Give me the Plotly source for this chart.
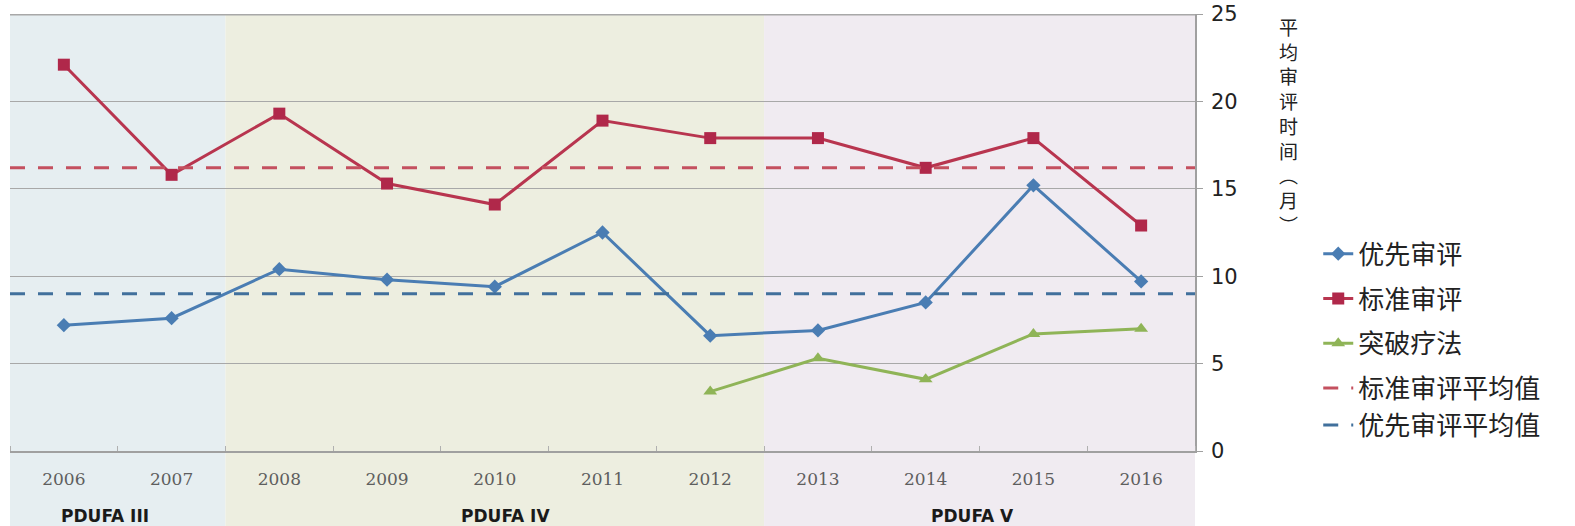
import plotly.graph_objects as go

years = ["2006", "2007", "2008", "2009", "2010", "2011", "2012", "2013", "2014", "2015", "2016"]
priority = [7.2, 7.6, 10.4, 9.8, 9.4, 12.5, 6.6, 6.9, 8.5, 15.2, 9.7]
standard = [22.1, 15.8, 19.3, 15.3, 14.1, 18.9, 17.9, 17.9, 16.2, 17.9, 12.9]
breakthrough_years = ["2012", "2013", "2014", "2015", "2016"]
breakthrough = [3.4, 5.3, 4.1, 6.7, 7.0]
standard_avg = 16.2
priority_avg = 9.0
periods = ["PDUFA III", "PDUFA IV", "PDUFA V"]
period_start = ["2006", "2008", "2013"]
period_end = ["2007", "2012", "2016"]
y_ticks = [0, 5, 10, 15, 20, 25]
axis_title = "平均审评时间︵月︶"

idx = {y: i for i, y in enumerate(years)}
xs = list(range(len(years)))

RED = "#b8354f"
BLUE = "#4a7db3"
GREEN = "#8fb457"

fig = go.Figure()
fig.add_trace(go.Scatter(
    x=xs, y=priority, name="优先审评", mode="lines+markers",
    line=dict(color=BLUE, width=3),
    marker=dict(symbol="diamond", size=11, color=BLUE),
    legendgroup="a"))
fig.add_trace(go.Scatter(
    x=xs, y=standard, name="标准审评", mode="lines+markers",
    line=dict(color=RED, width=3),
    marker=dict(symbol="square", size=12, color="#b0284a"),
    legendgroup="b"))
fig.add_trace(go.Scatter(
    x=[idx[y] for y in breakthrough_years], y=breakthrough, name="突破疗法",
    mode="lines+markers",
    line=dict(color=GREEN, width=3),
    marker=dict(symbol="triangle-up", size=12, color=GREEN),
    legendgroup="c"))
fig.add_trace(go.Scatter(
    x=[-0.5, len(years) - 0.5], y=[standard_avg, standard_avg], name="标准审评平均值",
    mode="lines", line=dict(color="#c4505f", width=3, dash="15px,13px"),
    legendgroup="d"))
fig.add_trace(go.Scatter(
    x=[-0.5, len(years) - 0.5], y=[priority_avg, priority_avg], name="优先审评平均值",
    mode="lines", line=dict(color="#41709c", width=3, dash="15px,13px"),
    legendgroup="d"))

band_colors = ["#e6eef1", "#edeee0", "#f0ebf1"]
shapes = []
for s, e, c in zip(period_start, period_end, band_colors):
    shapes.append(dict(type="rect", xref="x", yref="paper",
                       x0=idx[s] - 0.5, x1=idx[e] + 0.5, y0=-0.172, y1=1,
                       fillcolor=c, line=dict(width=0), layer="below"))
shapes.append(dict(type="line", xref="paper", yref="y", x0=0, x1=1,
                   y0=y_ticks[-1], y1=y_ticks[-1],
                   line=dict(color="#a8a8a8", width=3), layer="above"))

annotations = []
label_pos = [0.38, 4.1, 8.43]
for p, xp in zip(periods, label_pos):
    annotations.append(dict(x=xp, y=-0.148, xref="x", yref="paper", text=p,
                            showarrow=False, xanchor="center", yanchor="middle",
                            font=dict(family="DejaVu Sans", size=17, color="#1a1a1a",
                                      weight="bold")))
annotations.append(dict(x=1.079, y=1.008, xref="paper", yref="paper",
                        text="<br>".join(list(axis_title)), showarrow=False,
                        xanchor="center", yanchor="top", align="center",
                        font=dict(family="Noto Sans CJK SC", size=19, color="#222")))

fig.update_layout(
    width=1575, height=526,
    margin=dict(l=10, r=380, t=14, b=75, autoexpand=False),
    paper_bgcolor="white", plot_bgcolor="rgba(0,0,0,0)",
    shapes=shapes, annotations=annotations,
    showlegend=True,
    legend=dict(x=1.104, y=0.505, xanchor="left", yanchor="top",
                font=dict(family="Noto Sans CJK SC", size=26, color="#222"),
                tracegroupgap=8, bgcolor="rgba(0,0,0,0)"),
    xaxis=dict(range=[-0.5, len(years) - 0.5], tickmode="array", tickvals=xs,
               ticktext=years, ticks="", showgrid=False, zeroline=False,
               showline=True, linecolor="#a0a0a0", linewidth=1.5, automargin=False,
               tickfont=dict(family="DejaVu Serif", size=17, color="#5e5e5e"),
               ticklabelstandoff=12,
               minor=dict(ticks="inside", tick0=0.5, dtick=1, ticklen=5,
                          tickcolor="#b0b0b0", showgrid=False)),
    yaxis=dict(range=[0, 25], side="right", tickvals=y_ticks, automargin=False,
               showgrid=True, gridcolor="#a8a8a8", gridwidth=1.2,
               zeroline=False, showline=True, linecolor="#a0a0a0", linewidth=1.5,
               ticks="outside", ticklen=6, tickcolor="#a0a0a0",
               tickfont=dict(family="DejaVu Sans", size=21, color="#222"),
               ticklabelstandoff=4),
)

fig.write_html("out.html", config={"displayModeBar": False},
               post_script="document.body.style.margin='0px';")
